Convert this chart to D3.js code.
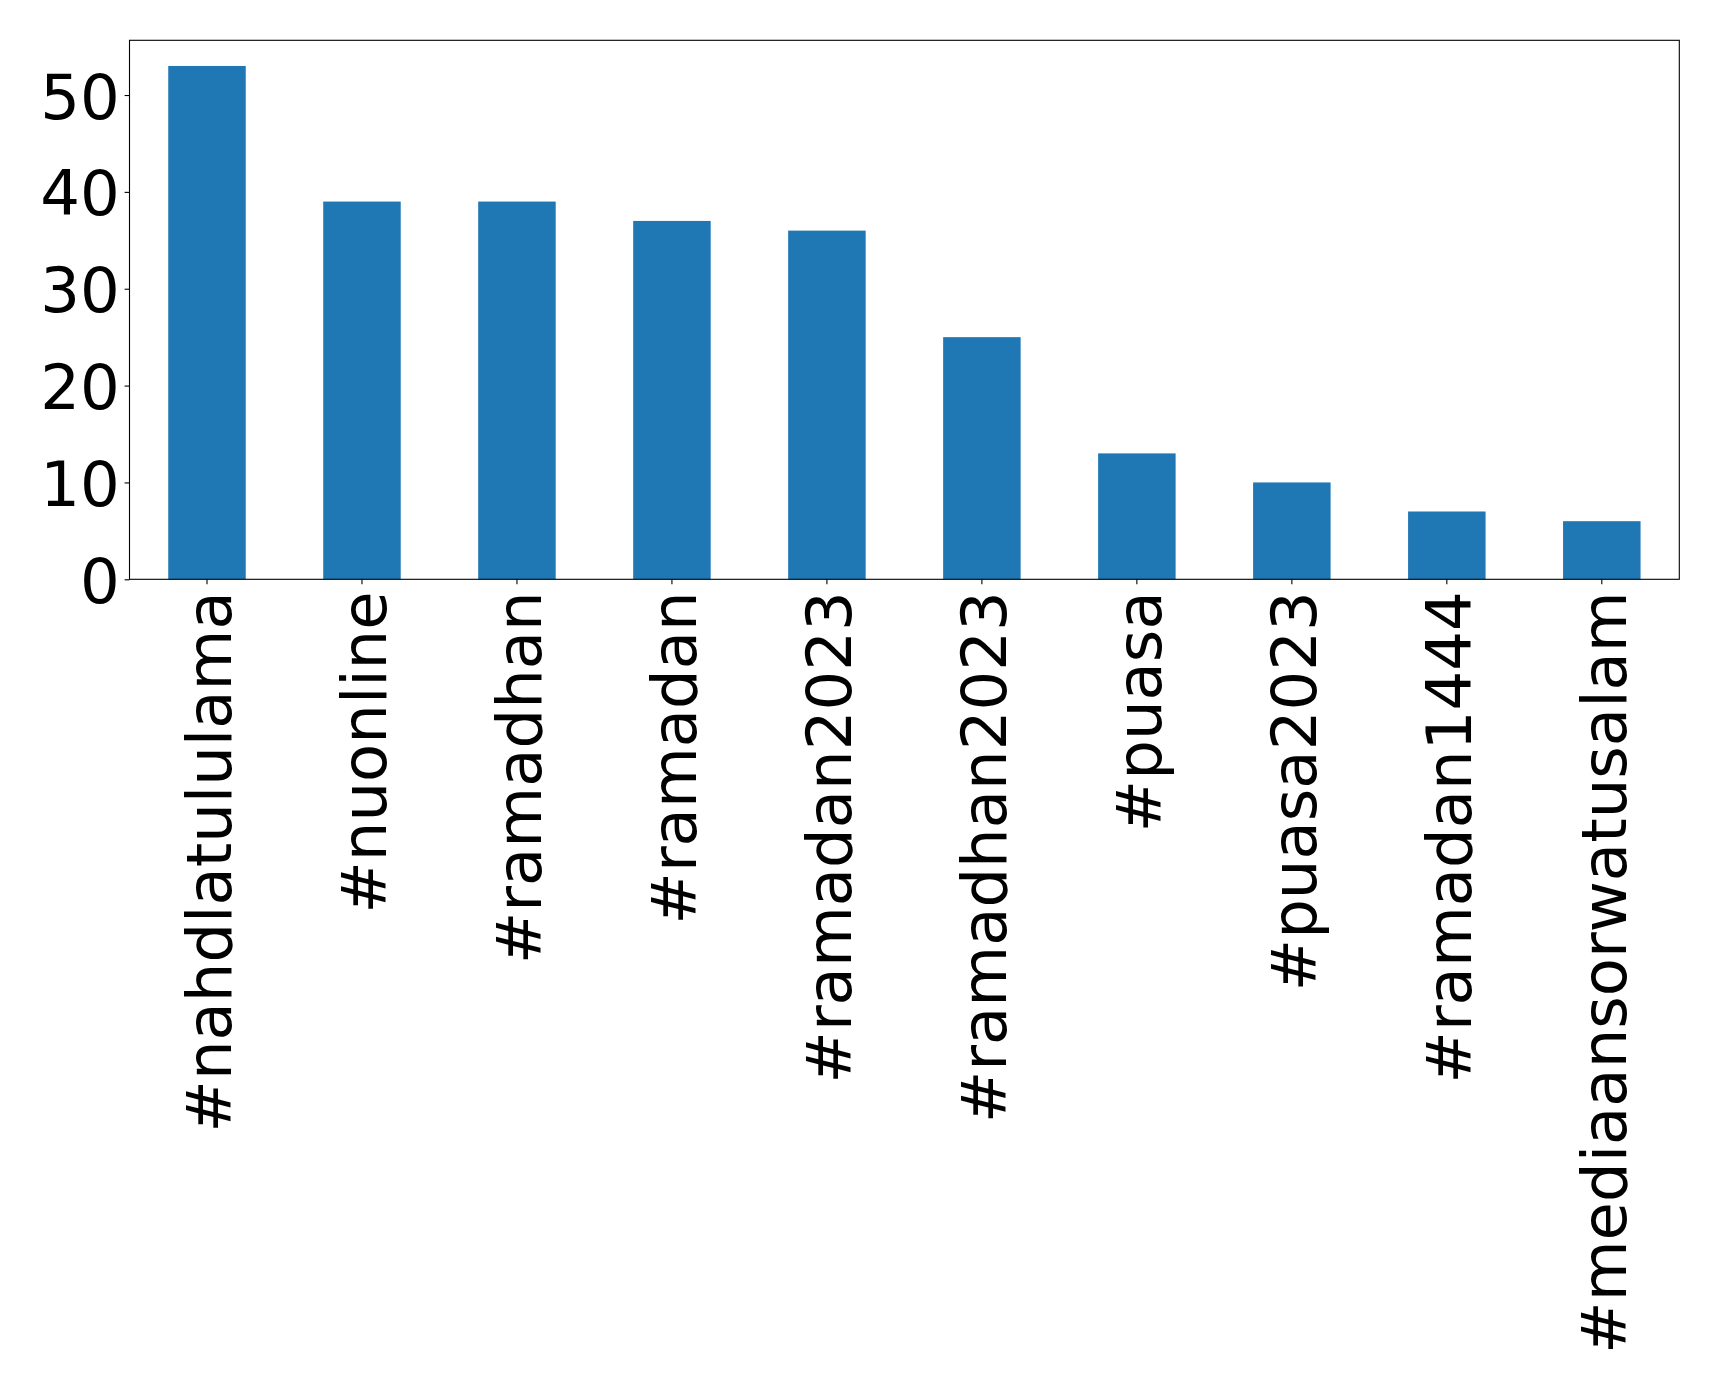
<!DOCTYPE html>
<html><head><meta charset="utf-8">
<script src="https://cdn.jsdelivr.net/npm/d3@7"></script>
<style>html,body{margin:0;padding:0;background:#fff;}svg{display:block;}</style>
</head><body>
<svg id="chart" width="1719" height="1390"></svg>
<script>
const categories = ["#nahdlatululama","#nuonline","#ramadhan","#ramadan","#ramadan2023","#ramadhan2023","#puasa","#puasa2023","#ramadan1444","#mediaansorwatusalam"];
const counts = [53, 39, 39, 37, 36, 25, 13, 10, 7, 6];
const yTicks = [0, 10, 20, 30, 40, 50];

const W = 1719, H = 1390;
const m = {left: 129.5, top: 40.3, right: 1679.3, bottom: 579.3};
const svg = d3.select("#chart");
svg.append("rect").attr("width", W).attr("height", H).attr("fill", "#fff");

const x = d3.scaleBand().domain(categories).range([m.left, m.right]).paddingInner(0.5).paddingOuter(0.25);
const y = d3.scaleLinear().domain([0, d3.max(counts) * 1.05]).range([m.bottom, m.top]);

const FS = 62.5;
const font = "'DejaVu Sans', sans-serif";

svg.append("g").selectAll("rect").data(categories).join("rect")
  .attr("x", d => x(d)).attr("width", x.bandwidth())
  .attr("y", (d, i) => y(counts[i])).attr("height", (d, i) => y(0) - y(counts[i]))
  .attr("fill", "#1f77b4");

// y axis
const yAxis = d3.axisLeft(y).tickValues(yTicks).tickSize(4.9).tickPadding(5).tickFormat(d3.format("d"));
const gy = svg.append("g").attr("transform", `translate(${m.left},0)`).call(yAxis);
gy.select(".domain").remove();
gy.selectAll(".tick line").attr("stroke", "#000").attr("stroke-width", 1.1);
gy.selectAll(".tick text").attr("font-family", font).attr("font-size", FS).attr("fill", "#000")
  .attr("dy", null).attr("dominant-baseline", "central").attr("x", -9.8).attr("y", 1.5);

// x axis
const xAxis = d3.axisBottom(x).tickSize(4.9).tickPadding(0);
const gx = svg.append("g").attr("transform", `translate(0,${m.bottom})`).call(xAxis);
gx.select(".domain").remove();
gx.selectAll(".tick line").attr("stroke", "#000").attr("stroke-width", 1.1);
gx.selectAll(".tick text").attr("font-family", font).attr("font-size", FS).attr("fill", "#000")
  .attr("text-anchor", "end").attr("dy", null)
  .attr("transform", "rotate(-90)").attr("x", -12).attr("y", 24);

// frame
svg.append("rect").attr("x", m.left).attr("y", m.top)
  .attr("width", m.right - m.left).attr("height", m.bottom - m.top)
  .attr("fill", "none").attr("stroke", "#000").attr("stroke-width", 1.1);
</script>
</body></html>
